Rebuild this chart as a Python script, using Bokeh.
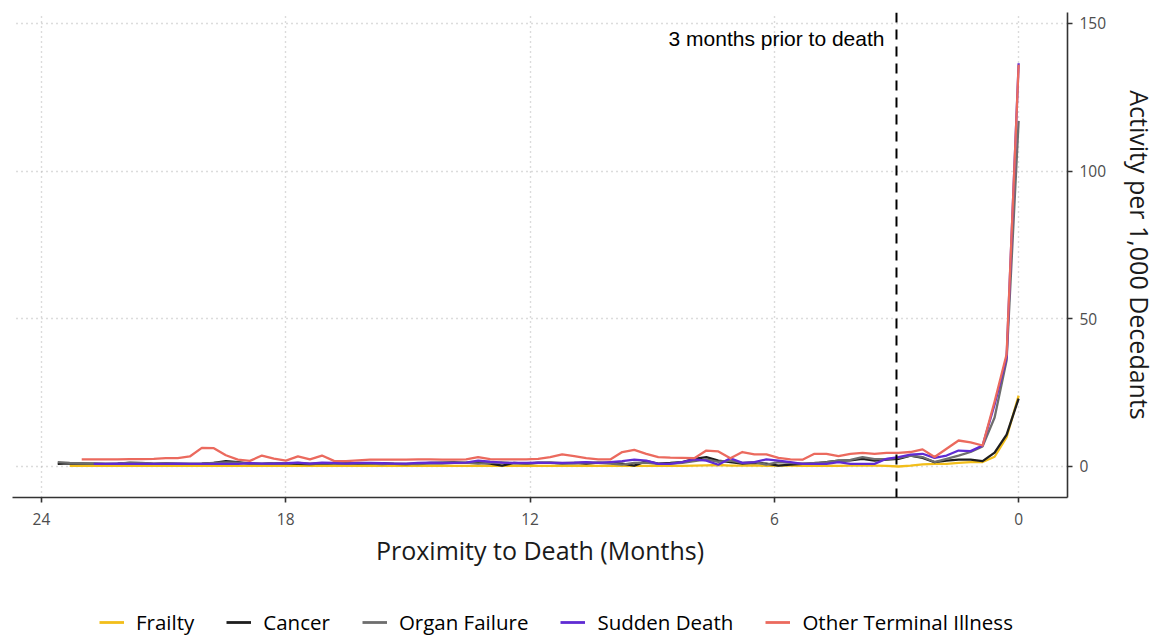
from bokeh.plotting import figure
from bokeh.layouts import column
from bokeh.models import (Range1d, FixedTicker, Span, Legend, LegendItem,
                          ColumnDataSource, Label)
from bokeh.embed import file_html
from bokeh.resources import INLINE

# ---- data (months before death, step index k -> k * 0.295 months) ----
step_months = 0.295
frailty = [24, 9.9, 3.3, 1.5, 1.5, 1.2, 0.9, 0.9, 0.7, 0.3,
           0.0, 0.2, 0.3, 0.3, 0.3, 0.2, 0.3, 0.2, 0.2, 0.3,
           0.3, 0.2, 0.4, 0.3, 0.3, 0.5, 0.4, 0.3, 0.2, 0.2,
           0.3, 0.2, 0.2, 0.3, 0.2, 0.2, 0.3, 0.2, 0.2, 0.2,
           0.2, 0.3, 0.2, 0.2, 0.2, 0.3, 0.2, 0.2, 0.2, 0.2,
           0.2, 0.2, 0.3, 0.2, 0.2, 0.2, 0.2, 0.3, 0.2, 0.2,
           0.2, 0.2, 0.2, 0.3, 0.2, 0.2, 0.2, 0.2, 0.2, 0.3,
           0.2, 0.2, 0.2, 0.2, 0.3, 0.2, 0.2, 0.2, 0.2, 0.2]
cancer = [23, 10.8, 4.7, 1.8, 2.3, 2.3, 2.0, 1.5, 2.9, 3.7,
          2.6, 2.3, 2.0, 2.6, 2.1, 2.0, 1.5, 1.0, 0.9, 0.6,
          0.3, 1.0, 1.2, 1.0, 1.5, 2.0, 3.2, 2.6, 1.5, 1.2,
          1.0, 1.8, 0.3, 1.0, 1.2, 1.3, 1.0, 1.2, 1.1, 1.3,
          1.2, 1.0, 1.2, 0.3, 1.0, 1.3, 1.2, 1.4, 1.3, 1.2,
          1.0, 0.8, 0.9, 1.1, 1.0, 0.9, 1.1, 0.9, 1.0, 0.8,
          0.9, 1.0, 1.1, 0.9, 1.0, 1.5, 1.8, 1.2, 1.0, 0.9,
          0.9, 1.0, 0.9, 1.1, 1.2, 1.0, 0.9, 1.0, 1.0, 1.1,
          0.9]
organ_failure = [117, 36, 16.6, 6.8, 4.9, 3.7, 2.6, 1.5, 3.2, 3.7,
                 2.9, 2.5, 2.5, 3.2, 2.2, 2.0, 1.5, 1.2, 1.0, 1.2,
                 1.5, 0.6, 1.5, 1.2, 2.0, 1.6, 2.4, 1.8, 1.2, 1.0,
                 0.9, 1.3, 1.2, 0.6, 1.0, 1.2, 1.4, 1.1, 1.0, 1.2,
                 1.3, 1.0, 1.1, 1.4, 1.2, 1.0, 1.3, 1.2, 1.0, 1.1,
                 0.8, 0.9, 1.0, 0.8, 1.0, 1.1, 1.0, 0.9, 1.1, 1.0,
                 1.2, 1.0, 1.1, 0.9, 1.0, 1.3, 1.4, 1.2, 1.0, 0.9,
                 1.0, 1.1, 1.0, 1.2, 1.3, 1.0, 0.9, 1.0, 1.1, 1.2,
                 1.5]
sudden_death = [136.5, 37, 21, 7.1, 5.2, 5.4, 3.7, 2.9, 4.3, 4.0,
                3.2, 2.6, 0.9, 0.9, 0.9, 1.5, 0.9, 0.9, 0.9, 1.5,
                2.0, 2.4, 1.5, 1.2, 2.8, 0.6, 2.0, 2.4, 1.5, 0.9,
                0.9, 2.0, 2.3, 1.8, 1.5, 1.2, 1.5, 1.3, 1.2, 1.2,
                1.3, 1.2, 1.2, 1.3, 1.6, 2.0, 1.3, 1.2, 1.2, 1.3,
                1.2, 1.0, 1.0, 1.1, 1.2, 1.2, 1.0, 1.2, 1.3, 1.0,
                1.3, 1.1, 1.0, 1.0, 1.1, 0.9, 0.9, 0.9, 0.9, 0.9,
                1.0, 0.9, 0.9, 0.9, 0.9, 1.0, 0.9, 0.9]
other_terminal = [136, 38, 22, 7.1, 8.2, 8.8, 6.0, 3.2, 5.8, 4.9,
                  4.6, 4.6, 4.3, 4.6, 4.3, 3.5, 4.3, 4.3, 2.3, 2.4,
                  2.9, 4.1, 4.1, 4.9, 2.8, 5.1, 5.4, 2.8, 2.9, 3.0,
                  3.2, 4.3, 5.6, 4.9, 2.4, 2.4, 2.8, 3.5, 4.1, 3.2,
                  2.6, 2.4, 2.4, 2.4, 2.5, 3.2, 2.4, 2.3, 2.3, 2.4,
                  2.4, 2.3, 2.3, 2.3, 2.3, 2.1, 1.8, 1.9, 3.7, 2.4,
                  3.4, 2.0, 2.7, 3.7, 1.9, 2.3, 3.8, 6.2, 6.3, 3.4,
                  2.8, 2.8, 2.6, 2.5, 2.5, 2.4, 2.4, 2.4, 2.4]

series_names = ["Frailty", "Cancer", "Organ Failure", "Sudden Death", "Other Terminal Illness"]
series_values = [frailty, cancer, organ_failure, sudden_death, other_terminal]
series_colors = ["#F2BE1A", "#1E1E1E", "#6E6E6E", "#5F2BD3", "#EB6A5E"]

x_ticks = [0, 6, 12, 18, 24]
x_tick_labels = {0: "0", 6: "6", 12: "12", 18: "18", 24: "24"}
y_ticks = [0, 50, 100, 150]
marker_month = 3
marker_text = "3 months prior to death"

# ---- main figure ----
p = figure(width=1160, height=600, output_backend="svg", toolbar_location=None,
           x_range=Range1d(24.71, -1.2), y_range=Range1d(-10.5, 153.7),
           y_axis_location="right", min_border_left=12, min_border_top=12,
           min_border_right=92, min_border_bottom=103)
p.outline_line_color = None
p.background_fill_color = "white"

for ax in (p.xaxis[0], p.yaxis[0]):
    ax.axis_line_color = "#333333"
    ax.axis_line_width = 1.6
    ax.major_tick_line_color = "#333333"
    ax.major_tick_line_width = 1.6
    ax.major_tick_out = 5
    ax.major_tick_in = 0
    ax.minor_tick_line_color = None
    ax.major_label_text_font = "Open Sans"
    ax.major_label_text_font_size = "15.5px"
    ax.major_label_text_color = "#4D4D4D"
    ax.axis_label_text_font = "Open Sans"
    ax.axis_label_text_font_size = "25px"
    ax.axis_label_text_font_style = "normal"
    ax.axis_label_text_color = "#1A1A1A"

p.xaxis.ticker = FixedTicker(ticks=x_ticks)
p.xaxis.major_label_overrides = x_tick_labels
p.xaxis.axis_label = "Proximity to Death (Months)"
p.xaxis.major_label_standoff = 10
p.xaxis.axis_label_standoff = 5

p.yaxis.ticker = FixedTicker(ticks=y_ticks)
p.yaxis.axis_label = "Activity per 1,000 Decedants"
p.yaxis.major_label_standoff = 7
p.yaxis.axis_label_standoff = 14

for g in (p.xgrid[0], p.ygrid[0]):
    g.grid_line_color = "#B8B8B8"
    g.grid_line_width = 1.4
    g.grid_line_dash = "1 4"

for name, vals, col in zip(series_names, series_values, series_colors):
    xs = [k * step_months for k in range(len(vals))]
    src = ColumnDataSource(dict(x=xs, y=vals))
    p.line("x", "y", source=src, line_color=col, line_width=2.3, line_join="round")

span = Span(location=marker_month, dimension="height", line_color="black",
            line_width=2, line_dash="10 7")
p.add_layout(span)

lab = Label(x=marker_month, y=145, text=marker_text, x_offset=-12,
            text_align="right", text_baseline="middle",
            text_font="Liberation Sans", text_font_size="21px", text_color="black")
p.add_layout(lab)

# ---- legend strip (its lines lie outside the strip's visible range) ----
pl = figure(width=1160, height=36, output_backend="svg", toolbar_location=None,
            x_axis_location=None, y_axis_location=None, min_border=0,
            x_range=Range1d(0, 1), y_range=Range1d(0, 1))
pl.outline_line_color = None
pl.grid.visible = False
items = []
for name, col in zip(series_names, series_colors):
    r = pl.line(x=[-5, -4], y=[-5, -5], line_color=col, line_width=2.8)
    items.append(LegendItem(label=name, renderers=[r]))
legend = Legend(items=items, orientation="horizontal", location=(87, 0),
                glyph_width=25, glyph_height=20, label_standoff=12, spacing=32,
                padding=0, margin=0, border_line_color=None,
                background_fill_alpha=0, label_text_font="Open Sans",
                label_text_font_size="20.5px", label_text_color="black")
pl.add_layout(legend)

open("out.html", "w").write(file_html(column(p, pl, spacing=0), INLINE))
